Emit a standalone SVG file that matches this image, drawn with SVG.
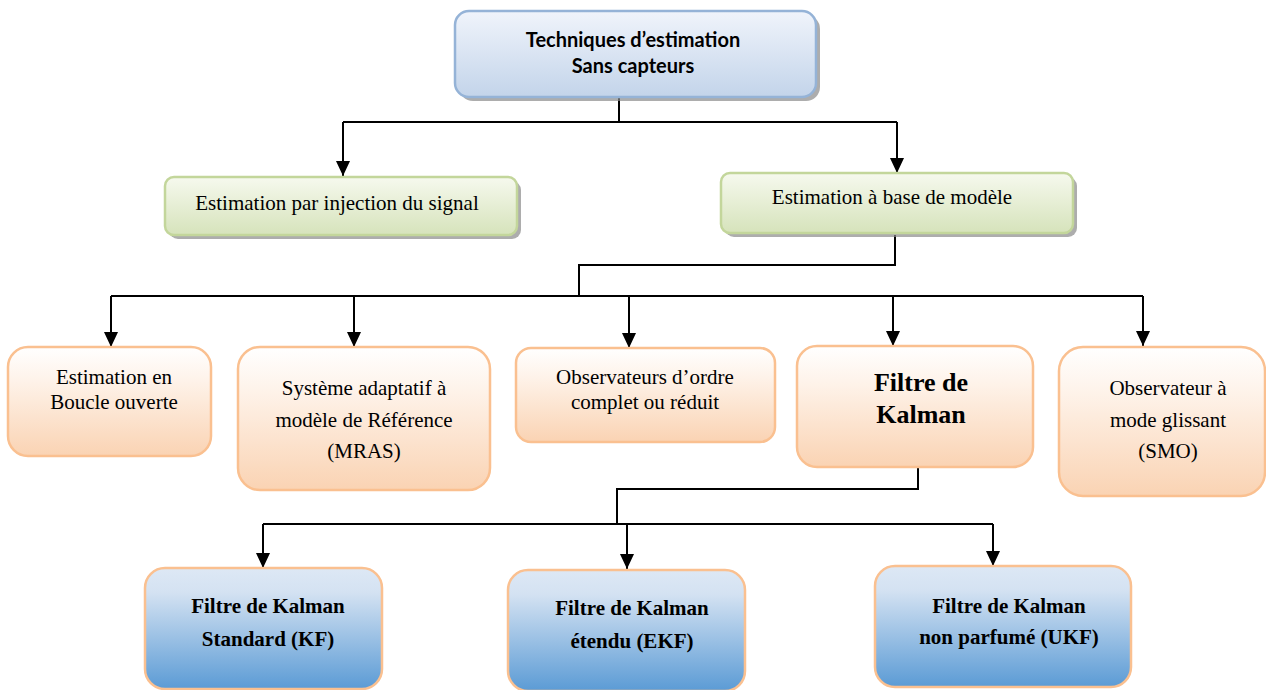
<svg xmlns="http://www.w3.org/2000/svg" width="1266" height="690" viewBox="0 0 1266 690">
<defs>
<linearGradient id="gTop" x1="0" y1="0" x2="0" y2="1"><stop offset="0" stop-color="#f0f4fb"/><stop offset="1" stop-color="#c3d4ea"/></linearGradient>
<linearGradient id="gGreen" x1="0" y1="0" x2="0" y2="1"><stop offset="0" stop-color="#f6f9ee"/><stop offset="1" stop-color="#d6e3bb"/></linearGradient>
<linearGradient id="gOrange" x1="0" y1="0" x2="0" y2="1"><stop offset="0" stop-color="#ffffff"/><stop offset="0.3" stop-color="#fef3ea"/><stop offset="1" stop-color="#fad3b3"/></linearGradient>
<linearGradient id="gBlue" x1="0" y1="0" x2="0" y2="1"><stop offset="0" stop-color="#dde8f5"/><stop offset="0.2" stop-color="#d4e2f2"/><stop offset="1" stop-color="#5b9bd5"/></linearGradient>
<marker id="arr" viewBox="0 0 15 14" refX="15" refY="7" markerWidth="15" markerHeight="14" markerUnits="userSpaceOnUse" orient="auto"><path d="M0,0 L15,7 L0,14 Z" fill="#000"/></marker>
</defs>
<style>
.conn{fill:none;stroke:#000;stroke-width:2}
.top{fill:url(#gTop);stroke:#95b3d7;stroke-width:2.5}
.green{fill:url(#gGreen);stroke:#c3d69b;stroke-width:2.5}
.orange{fill:url(#gOrange);stroke:#fac090;stroke-width:2.5}
.blue{fill:url(#gBlue);stroke:#fac090;stroke-width:2.5}
.shadow{fill:#8a8a8a;opacity:0.7}
text{font-family:'Liberation Serif','Times New Roman',serif;fill:#000;text-anchor:middle}
.t{font-size:21px}
.tb{font-size:21px;font-weight:bold}
.tk{font-size:26px;font-weight:bold}
.tc{font-family:Lato,'Open Sans',sans-serif;font-size:20px;font-weight:bold}
</style>
<g id="connectors">
<path class="conn" d="M619,98 V122"/>
<path class="conn" d="M343,122 H897"/>
<path class="conn" d="M343,122 V176" marker-end="url(#arr)"/>
<path class="conn" d="M897,122 V173" marker-end="url(#arr)"/>
<path class="conn" d="M895,235 V265 H579 V296"/>
<path class="conn" d="M111,296 H1143"/>
<path class="conn" d="M111,296 V347" marker-end="url(#arr)"/>
<path class="conn" d="M354,296 V347" marker-end="url(#arr)"/>
<path class="conn" d="M629,296 V348" marker-end="url(#arr)"/>
<path class="conn" d="M893,296 V346" marker-end="url(#arr)"/>
<path class="conn" d="M1143,296 V346" marker-end="url(#arr)"/>
<path class="conn" d="M918,467 V489 H617 V524"/>
<path class="conn" d="M263,524 H993"/>
<path class="conn" d="M263,524 V568" marker-end="url(#arr)"/>
<path class="conn" d="M627,524 V569" marker-end="url(#arr)"/>
<path class="conn" d="M993,524 V566" marker-end="url(#arr)"/>
</g>
<g id="n-top">
<rect class="shadow" x="459" y="15" width="361" height="86" rx="14"/>
<rect class="top" x="455" y="11" width="361" height="86" rx="14"/>
<text class="tc" x="633" y="47">Techniques d’estimation</text>
<text class="tc" x="633" y="73">Sans capteurs</text>
</g>
<g id="n-injection">
<rect class="shadow" x="169" y="181" width="352" height="58" rx="9"/>
<rect class="green" x="165" y="177" width="352" height="58" rx="9"/>
<text class="t" x="337" y="210">Estimation par injection du signal</text>
</g>
<g id="n-modele">
<rect class="shadow" x="725" y="177" width="352" height="60" rx="9"/>
<rect class="green" x="721" y="173" width="352" height="60" rx="9"/>
<text class="t" x="892" y="204">Estimation à base de modèle</text>
</g>
<g id="n-boucle">
<rect class="orange" x="8" y="347" width="203" height="109" rx="20"/>
<text class="t" x="114" y="384">Estimation en</text>
<text class="t" x="114" y="409">Boucle ouverte</text>
</g>
<g id="n-mras">
<rect class="orange" x="238" y="347" width="252" height="143" rx="22"/>
<text class="t" x="364" y="395">Système adaptatif à</text>
<text class="t" x="364" y="427">modèle de Référence</text>
<text class="t" x="364" y="458">(MRAS)</text>
</g>
<g id="n-obs">
<rect class="orange" x="516" y="348" width="259" height="94" rx="15"/>
<text class="t" x="645" y="384">Observateurs d’ordre</text>
<text class="t" x="645" y="409">complet ou réduit</text>
</g>
<g id="n-kalman">
<rect class="orange" x="797" y="346" width="236" height="121" rx="20"/>
<text class="tk" x="921" y="391">Filtre de</text>
<text class="tk" x="921" y="423">Kalman</text>
</g>
<g id="n-smo">
<rect class="orange" x="1059" y="347" width="206" height="149" rx="24"/>
<text class="t" x="1168" y="395">Observateur à</text>
<text class="t" x="1168" y="427">mode glissant</text>
<text class="t" x="1168" y="458">(SMO)</text>
</g>
<g id="n-kf">
<rect class="blue" x="145" y="568" width="237" height="121" rx="20"/>
<text class="tb" x="268" y="613">Filtre de Kalman</text>
<text class="tb" x="268" y="646">Standard (KF)</text>
</g>
<g id="n-ekf">
<rect class="blue" x="508" y="570" width="237" height="121" rx="20"/>
<text class="tb" x="632" y="615">Filtre de Kalman</text>
<text class="tb" x="632" y="648">étendu (EKF)</text>
</g>
<g id="n-ukf">
<rect class="blue" x="875" y="566" width="256" height="121" rx="20"/>
<text class="tb" x="1009" y="613">Filtre de Kalman</text>
<text class="tb" x="1009" y="644">non parfumé (UKF)</text>
</g>
</svg>
